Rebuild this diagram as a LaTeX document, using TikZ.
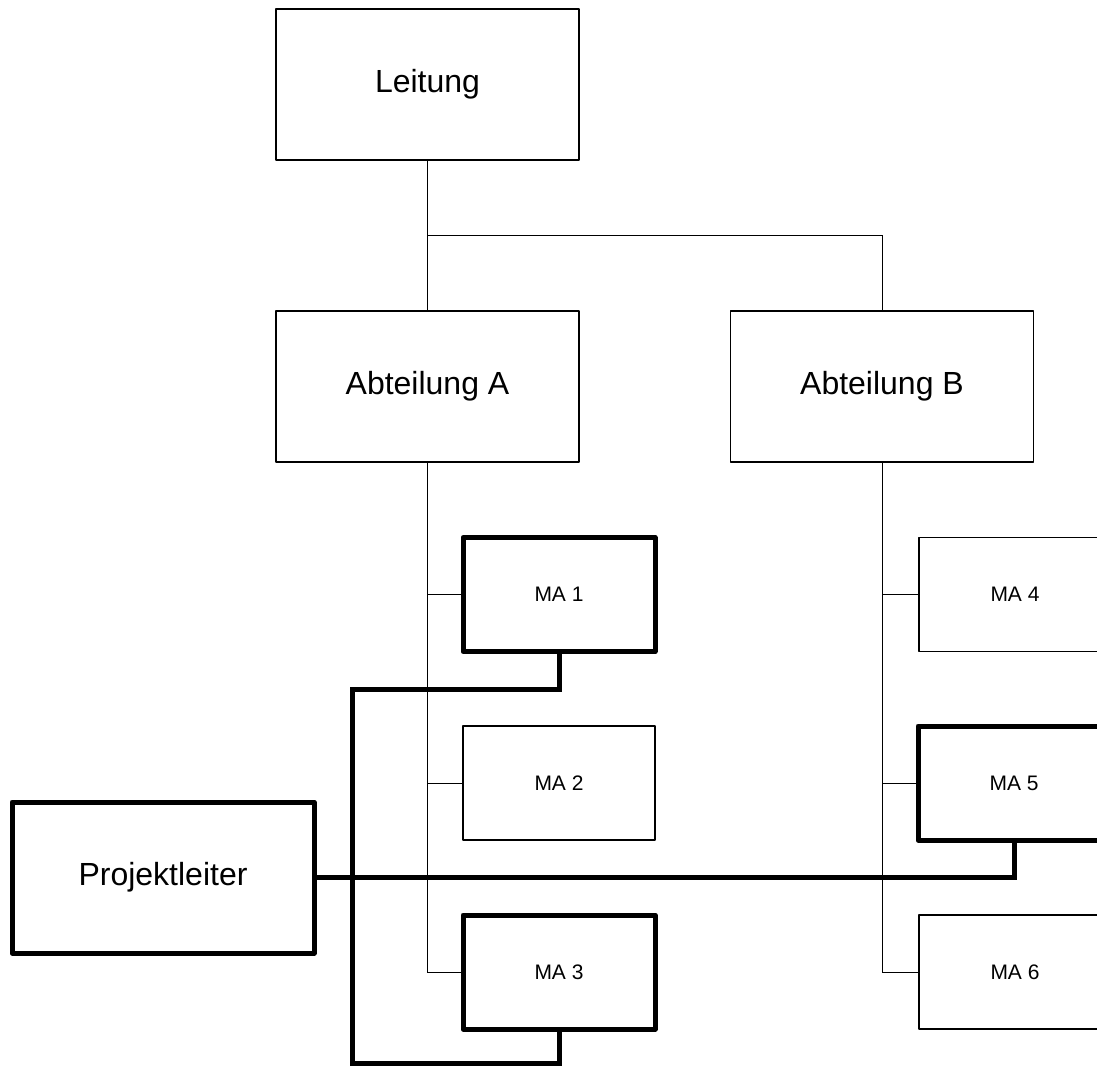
\documentclass[tikz,border=0pt]{standalone}
\usepackage{fontspec}
\setmainfont{Liberation Sans}
\begin{document}
\begin{tikzpicture}[x=1pt,y=-1pt,
  unit/.style={draw, line width=1.4pt, fill=white, inner sep=0pt, line join=round},
  bigunit/.style={unit, minimum width=303pt, minimum height=151pt,
    font=\fontsize{32}{38}\selectfont},
  staff/.style={unit, minimum width=192pt, minimum height=114pt,
    font=\fontsize{21}{25}\selectfont},
  lead/.style={line width=5pt},
  orgline/.style={line width=1pt},
  projline/.style={line width=5pt, line join=miter}]
\useasboundingbox (0,0) rectangle (1097,1066);

% hierarchy
\node[bigunit] (lei) at (427.5,84.5) {Leitung};
\node[bigunit] (abA) at (427.5,386.5) {Abteilung A};
\node[bigunit] (abB) at (882,386.5) {Abteilung B};

\node[staff, lead] (ma1) at (559,594.5) {MA 1};
\node[staff] (ma2) at (559,783) {MA 2};
\node[staff, lead] (ma3) at (559,972) {MA 3};
\node[staff] (ma4) at (1015,594.5) {MA 4};
\node[staff, lead] (ma5) at (1014,783) {MA 5};
\node[staff] (ma6) at (1015,972) {MA 6};

\node[bigunit, lead, minimum width=302pt] (pl) at (163,877.5) {Projektleiter};

% line organisation
\coordinate (split) at (427.5,235.5);
\draw[orgline] (lei.south) -- (split) -| (abB.north);
\draw[orgline] (split) -- (abA.north);
\draw[orgline] (abA.south) |- (ma3.west);
\draw[orgline] (ma1.west) -- (ma1.west -| abA.south);
\draw[orgline] (ma2.west) -- (ma2.west -| abA.south);
\draw[orgline] (abB.south) |- (ma6.west);
\draw[orgline] (ma4.west) -- (ma4.west -| abB.south);
\draw[orgline] (ma5.west) -- (ma5.west -| abB.south);

% project organisation
\coordinate (busTop) at (352,689);
\coordinate (busBot) at (352,1063);
\draw[projline] (pl.east) -| (ma5.south);
\draw[projline] (ma1.south) |- (busTop) -- (busBot) -| (ma3.south);
\end{tikzpicture}
\end{document}
